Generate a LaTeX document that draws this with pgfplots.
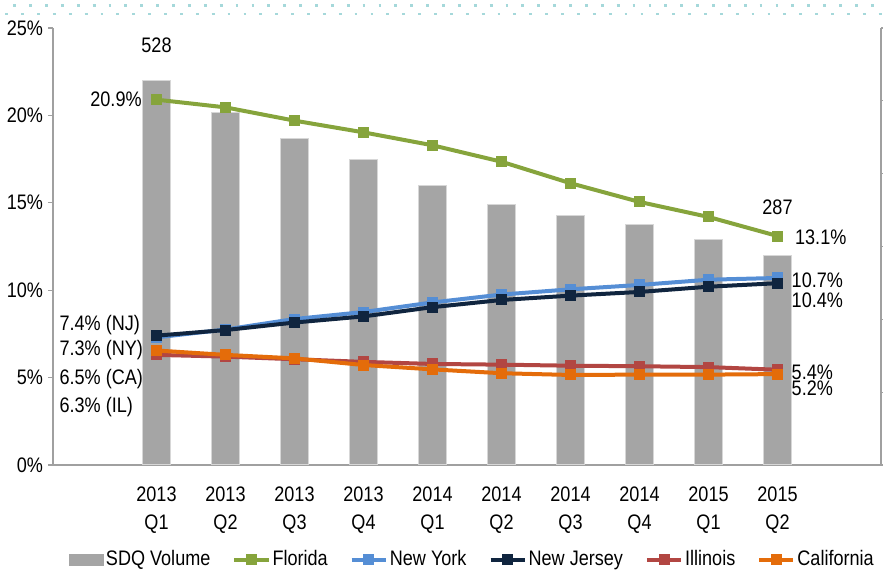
\documentclass[border=0pt]{standalone}
\usepackage{fontspec}
\setmainfont{Liberation Sans}[FakeStretch=0.86]
\usepackage{pgfplots}
\pgfplotsset{compat=1.18}

\definecolor{barc}{RGB}{165,165,165}
\definecolor{baredge}{RGB}{215,215,215}
\definecolor{axc}{RGB}{160,160,160}
\definecolor{fl}{RGB}{134,164,60}
\definecolor{ny}{RGB}{85,142,213}
\definecolor{nj}{RGB}{16,37,63}
\definecolor{il}{RGB}{178,70,66}
\definecolor{ca}{RGB}{228,108,10}
\definecolor{dotc}{RGB}{165,216,218}

\newcommand{\fs}{\fontsize{10.5}{14}\selectfont}

\begin{document}
\begin{tikzpicture}[font=\fs]
\path[use as bounding box] (-26.5pt,-53.5pt) rectangle (415pt,232.5pt);
% slide decoration at the top
\draw[dotc, line width=1.4pt, dash pattern=on 1.4pt off 6.54pt] (-19.85pt,229.65pt) -- (415pt,229.65pt);
\draw[dotc, line width=1.4pt, dash pattern=on 1.4pt off 6.54pt] (-23.85pt,225.5pt) -- (415pt,225.5pt);

% SDQ volume bars, right axis
\begin{axis}[
  scale only axis, width=414pt, height=218.5pt, at={(0,0)}, anchor=south west,
  xmin=-0.5, xmax=11.5, ymin=0, ymax=600,
  axis x line*=bottom, axis y line*=right,
  axis line style={-, axc, line width=0.6pt},
  xtick={1,...,10},
  xticklabels={{2013\\Q1},{2013\\Q2},{2013\\Q3},{2013\\Q4},{2014\\Q1},{2014\\Q2},{2014\\Q3},{2014\\Q4},{2015\\Q1},{2015\\Q2}},
  x tick label style={align=center, font=\fs, yshift=-5pt},
  xtick style={draw=none},
  minor xtick={-0.5,0.5,...,11.5},
  minor x tick style={axc, line width=0.6pt},
  minor tick length=2.5pt,
  ytick={0,100,...,600}, yticklabels={},
  y tick style={axc, line width=0.6pt},
  major tick length=2.5pt,
  tick align=outside,
  ybar, bar width=14pt,
]
\addplot[fill=barc, draw=baredge, line width=0.5pt] coordinates {
(1,528) (2,484) (3,448) (4,419) (5,384) (6,357) (7,342) (8,330) (9,309) (10,287)};
\end{axis}

% state shares, left axis
\begin{axis}[
  scale only axis, width=414pt, height=218.5pt, at={(0,0)}, anchor=south west,
  xmin=-0.5, xmax=11.5, ymin=0, ymax=25,
  axis x line=none, axis y line*=left,
  axis line style={-, axc, line width=0.6pt},
  ytick={0,5,...,25}, yticklabels={0\%,5\%,10\%,15\%,20\%,25\%},
  y tick label style={font=\fs, xshift=1pt},
  tick style={axc, line width=0.6pt}, major tick length=2.5pt, tick align=outside,
  every axis plot/.append style={line width=2pt, mark=square*, mark size=2.5pt, mark options={solid, line width=0.5pt}},
  legend columns=6,
  legend style={at={(0.507,-0.217)}, anchor=center, draw=none, font=\fs,
    nodes={inner xsep=1pt},
    /tikz/every even column/.append style={column sep=10pt}},
  legend cell align=left,
  clip=false,
]
\addlegendimage{area legend, fill=barc, draw=barc, line width=0pt}
\addlegendentry{SDQ Volume}
\addplot[fl] coordinates {(1,20.9) (2,20.46) (3,19.7) (4,19.03) (5,18.29) (6,17.35) (7,16.12) (8,15.05) (9,14.19) (10,13.1)};
\addlegendentry{Florida}
\addplot[ny] coordinates {(1,7.3) (2,7.75) (3,8.35) (4,8.75) (5,9.3) (6,9.75) (7,10.05) (8,10.3) (9,10.6) (10,10.7)};
\addlegendentry{New York}
\addplot[nj] coordinates {(1,7.4) (2,7.72) (3,8.15) (4,8.5) (5,9.03) (6,9.44) (7,9.69) (8,9.9) (9,10.2) (10,10.4)};
\addlegendentry{New Jersey}
\addplot[il] coordinates {(1,6.3) (2,6.2) (3,6.05) (4,5.9) (5,5.78) (6,5.74) (7,5.68) (8,5.65) (9,5.6) (10,5.45)};
\addlegendentry{Illinois}
\addplot[ca] coordinates {(1,6.55) (2,6.3) (3,6.1) (4,5.72) (5,5.47) (6,5.25) (7,5.15) (8,5.17) (9,5.17) (10,5.2)};
\addlegendentry{California}

\node[inner sep=0pt] at (axis cs:1,24.03) {528};
\node[inner sep=0pt] at (axis cs:10,14.76) {287};
\node[anchor=east, inner sep=0pt] at (axis cs:0.79,20.9) {20.9\%};
\node[anchor=west, inner sep=0pt] at (axis cs:10.25,13.04) {13.1\%};
\node[anchor=west, inner sep=0pt] at (axis cs:10.2,10.58) {10.7\%};
\node[anchor=west, inner sep=0pt] at (axis cs:10.2,9.45) {10.4\%};
\node[anchor=west, inner sep=0pt] at (axis cs:10.2,5.28) {5.4\%};
\node[anchor=west, inner sep=0pt] at (axis cs:10.2,4.39) {5.2\%};
\node[anchor=west, inner sep=0pt] at (axis cs:-0.41,8.01) {7.4\% (NJ)};
\node[anchor=west, inner sep=0pt] at (axis cs:-0.41,6.58) {7.3\% (NY)};
\node[anchor=west, inner sep=0pt] at (axis cs:-0.41,4.92) {6.5\% (CA)};
\node[anchor=west, inner sep=0pt] at (axis cs:-0.41,3.30) {6.3\% (IL)};
\end{axis}
\end{tikzpicture}
\end{document}
